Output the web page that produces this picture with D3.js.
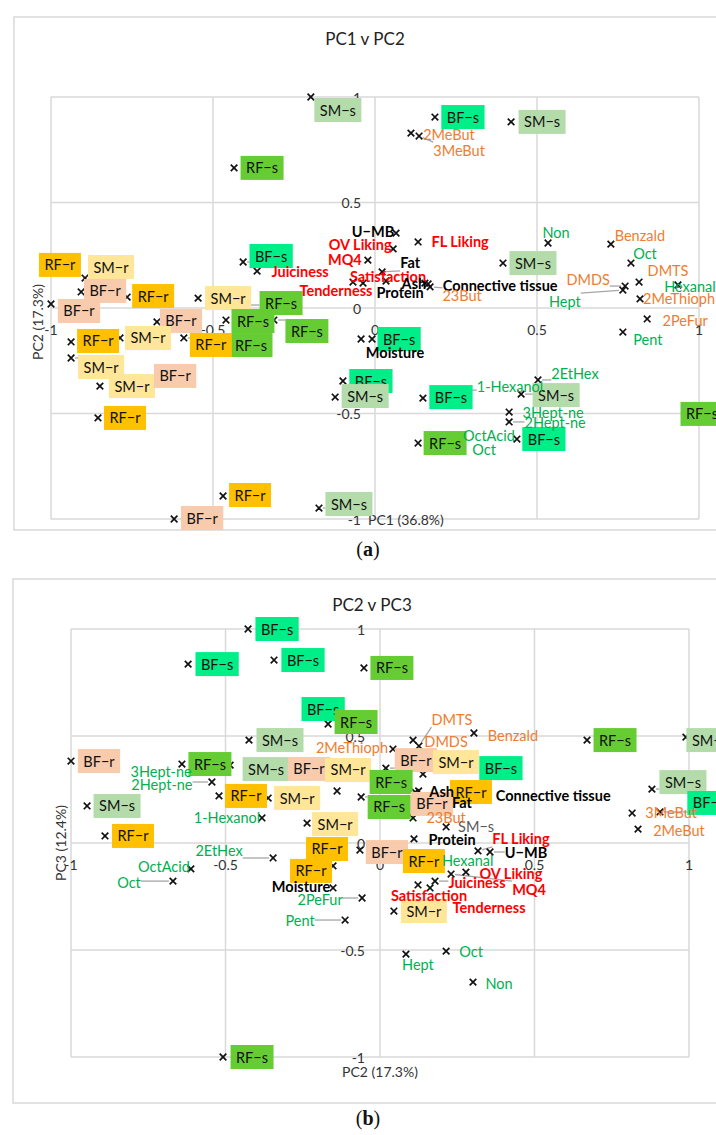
<!DOCTYPE html>
<html><head><meta charset="utf-8">
<script src="https://cdn.jsdelivr.net/npm/d3@7"></script>
<style>body{margin:0;background:#fff}</style>
</head><body>
<svg id="fig" width="716" height="1135"></svg>
<script>
// ---------- shared ----------
const tickValues = [-1, -0.5, 0, 0.5, 1];
const tickLabels = ["-1", "-0.5", "0", "0.5", "1"];

// ---------- PC1 v PC2 : sample scores ----------
const samplesA = ["SM−s","RF−s","BF−s","SM−s","BF−s","SM−s","RF−r","SM−r","BF−r","BF−r",
  "RF−r","SM−r","BF−r","RF−s","RF−s","RF−s","RF−s","RF−r","RF−r","SM−r",
  "SM−r","SM−r","BF−r","RF−r","RF−r","BF−r","SM−s","BF−s","BF−s","SM−s",
  "BF−s","SM−s","BF−s","RF−s","RF−s"];
const samplesA_pc1 = [-0.198,-0.435,0.185,0.420,-0.407,0.395,-0.849,-0.895,-0.907,-1.0,
  -0.765,-0.546,-0.673,-0.460,-0.312,-0.401,-0.463,-0.590,-0.938,-0.787,
  -0.938,-0.849,-0.694,-0.855,-0.469,-0.620,-0.173,-0.009,-0.099,-0.123,
  0.148,0.451,0.438,0.133,1.0];
const samplesA_pc2 = [1.0,0.664,0.905,0.882,0.218,0.213,0.190,0.142,0.076,0.019,
  0.052,0.047,-0.066,-0.057,-0.057,0.014,-0.185,-0.142,-0.161,-0.142,
  -0.237,-0.370,-0.341,-0.521,-0.891,-1.0,-0.948,-0.147,-0.346,-0.422,
  -0.427,-0.408,-0.621,-0.640,-0.502];

// ---------- PC1 v PC2 : variable loadings ----------
const varsA = ["U−MB","FL Liking","Non","Benzald","OV Liking","MQ4","Fat","Satisfaction","Tenderness","Protein",
  "Juiciness","Ash","Connective tissue","23But","Moisture","Oct","DMTS","DMDS","Hept","Hexanal",
  "2MeThioph","2PeFur","Pent","2EtHex","1-Hexanol","3Hept-ne","2Hept-ne","OctAcid","Oct","2MeBut","3MeBut"];
const varsA_pc1 = [0.065,0.133,0.534,0.728,0.056,-0.022,0.022,-0.037,-0.068,0.034,
  -0.364,0.154,0.164,0.170,-0.043,0.790,0.815,0.772,0.765,0.935,
  0.818,0.840,0.765,0.503,0.256,0.414,0.414,0.478,0.488,0.111,0.136];
const varsA_pc2 = [0.355,0.313,0.308,0.303,0.280,0.227,0.171,0.118,0.123,0.128,
  0.175,0.118,0.114,0.100,-0.147,0.213,0.123,0.104,0.085,0.109,
  0.043,-0.052,-0.114,-0.341,-0.389,-0.493,-0.540,-0.626,-0.649,0.829,0.815];
const varsA_type = ["comp","sens","volB","volA","sens","sens","comp","sens","sens","comp",
  "sens","comp","comp","volA","comp","volB","volA","volA","volB","volB",
  "volA","volA","volB","volB","volB","volB","volB","volB","volB","volA","volA"];

// ---------- PC2 v PC3 : sample scores ----------
const samplesB = ["BF−s","BF−s","BF−s","RF−s","BF−s","RF−s","SM−s","BF−r","RF−s","SM−s",
  "BF−r","SM−r","RF−r","SM−r","SM−s","RF−r","SM−r","BF−r","RF−r","RF−r",
  "BF−r","SM−r","BF−s","RF−s","RF−s","RF−r","BF−r","SM−s","RF−r","SM−r",
  "RF−s","RF−s","SM−s","SM−s","BF−s"];
const samplesB_pc2 = [-0.427,-0.621,-0.343,-0.052,-0.129,-0.168,-0.424,-1.0,-0.641,-0.485,
  -0.259,-0.139,-0.521,-0.362,-0.948,-0.890,-0.236,-0.065,-0.123,-0.152,
  0.019,0.139,0.291,0.049,-0.061,0.275,0.194,0.214,0.113,0.045,
  -0.508,0.670,0.990,0.880,0.906];
const samplesB_pc3 = [1.0,0.836,0.855,0.818,0.584,0.556,0.481,0.383,0.369,0.364,
  0.318,0.243,0.220,0.210,0.173,0.033,0.093,-0.033,-0.042,-0.107,
  0.350,0.322,0.350,0.271,0.215,0.224,0.173,0.075,-0.089,-0.318,
  -1.0,0.481,0.495,0.252,0.145];

// ---------- PC2 v PC3 : variable loadings ----------
const varsB = ["DMDS","DMTS","Benzald","2MeThioph","3Hept-ne","2Hept-ne","1-Hexanol","2EtHex","OctAcid","Oct",
  "Moisture","2PeFur","Pent","Ash","Connective tissue","Fat","23But","Protein","FL Liking","U−MB",
  "Hexanal","OV Liking","MQ4","Juiciness","Satisfaction","Tenderness","Hept","Oct","Non","3MeBut","2MeBut"];
const varsB_pc2 = [0.107,0.126,0.304,0.042,-0.498,-0.544,-0.382,-0.346,-0.612,-0.670,
  -0.152,-0.058,-0.113,0.125,0.114,0.162,0.107,0.110,0.317,0.356,
  0.109,0.278,0.230,0.178,0.123,0.162,0.084,0.214,0.301,0.816,0.835];
const varsB_pc3 = [0.481,0.453,0.514,0.439,0.341,0.285,0.117,-0.070,-0.121,-0.178,
  -0.210,-0.257,-0.360,0.243,0.238,0.201,0.117,0.019,-0.037,-0.042,
  -0.107,-0.136,-0.145,-0.178,-0.196,-0.210,-0.519,-0.505,-0.650,0.140,0.065];
const varsB_type = ["volA","volA","volA","volA","volB","volB","volB","volB","volB","volB",
  "comp","volB","volB","comp","comp","comp","volA","comp","sens","comp",
  "volB","sens","sens","sens","sens","sens","volB","volB","volB","volA","volA"];

// ---------- label placement (pixel nudges from each marker; true = leader line) ----------
const nudgeSamplesA = [[27,13],[28,0],[28,0],[31,0],[28,-6,true],[30,0],[-40,-3],[26,-11],[24,-1],[28,7],
  [26,-1],[30,0],[24,-1],[27,1],[33,11,true],[36,-2,true],[26,-2],[27,7,true],[27,-1],[28,0],
  [30,9,true],[32,0],[25,-4],[27,0],[27,-1],[28,-1],[30,-4,true],[27,0],[28,0],[30,-1],
  [28,-1],[35,1,true],[27,0],[27,0],[3,0]];
const nudgeVarsA = [[-23,-2],[42,0],[8,-11],[29,-9],[-33,-4],[-23,-1],[28,-9,true],[25,-7],[-17,8],[14,12],
  [43,0],[-11,0],[72,2],[32,9,true],[34,13],[14,-10],[29,-12],[-37,-7,true],[-58,11,true],[12,1],
  [39,0],[38,2],[25,7],[37,-6,true],[52,-4,true],[44,0],[46,1,true],[-41,-5],[-49,5],[38,1],[40,14,true]];
const nudgeSamplesB = [[29,0],[29,0],[29,0],[28,0],[-17,-9],[28,-2],[31,0],[28,0],[28,0],[36,4],
  [9,-6],[11,-21],[27,0],[29,0],[30,0],[28,0],[28,1],[27,2],[-15,-3],[-22,5],
  [30,-8,true],[33,-12],[31,0],[-4,-3],[28,10,true],[6,-3],[-8,-2],[30,0],[9,-1],[30,0],
  [29,0],[28,0],[24,3],[31,-7,true],[49,-9,true]];
const plainSamplesB = [27]; // drawn as grey text without a box
const nudgeVarsB = [[33,1],[33,-27,true],[39,2],[-41,-2],[-65,1],[-50,2,true],[-35,0],[-54,-7,true],[-27,-2],[-44,1,true],
  [-32,-1],[-42,2,true],[-45,0,true],[23,1],[138,3],[32,3],[33,0],[38,1],[43,-12,true],[36,1,true],
  [54,-5],[45,1],[78,15,true],[42,1,true],[11,11],[59,20],[12,10],[25,0],[26,1],[39,-1],[41,1]];

// ---------- styles ----------
const FONT = "Lato, 'Open Sans', sans-serif";
const groupFill = {"RF−r":"#FFC000","SM−r":"#FFE699","BF−r":"#F8CBAD",
                   "RF−s":"#66CC33","SM−s":"#B4DCAA","BF−s":"#00EE88"};
const typeStyle = {sens:{fill:"#FF0000",weight:"bold"}, comp:{fill:"#000000",weight:"bold"},
                   volA:{fill:"#ED7D31",weight:"normal"}, volB:{fill:"#00B050",weight:"normal"}};
const GRID = "#D9D9D9";

const svg = d3.select("#fig");
svg.append("rect").attr("width",716).attr("height",1135).attr("fill","#fff");

function drawPanel(cfg) {
  const g = svg.append("g");
  const xs = d3.scaleLinear().domain([-1,1]).range(cfg.xRange);
  const ys = d3.scaleLinear().domain([-1,1]).range(cfg.yRange);

  g.append("rect").attr("x",cfg.frame[0]).attr("y",cfg.frame[1])
    .attr("width",cfg.frame[2]).attr("height",cfg.frame[3])
    .attr("fill","#fff").attr("stroke",GRID).attr("stroke-width",1.5);

  g.append("text").attr("x",cfg.title[1]).attr("y",cfg.title[2])
    .attr("text-anchor","middle").attr("dominant-baseline","central")
    .style("font-family",FONT).style("font-size","17px").attr("fill","#222")
    .text(cfg.title[0]);

  // gridlines
  g.selectAll(".vg").data(tickValues).join("line")
    .attr("x1",d=>xs(d)).attr("x2",d=>xs(d)).attr("y1",ys(1)).attr("y2",ys(-1))
    .attr("stroke",GRID).attr("stroke-width",1.5);
  g.selectAll(".hg").data(tickValues).join("line")
    .attr("y1",d=>ys(d)).attr("y2",d=>ys(d)).attr("x1",xs(-1)).attr("x2",xs(1))
    .attr("stroke",GRID).attr("stroke-width",1.5);

  // tick labels along the axes through the origin
  const tickFont = sel => sel.style("font-family",FONT).style("font-size","14px").attr("fill","#333");
  g.selectAll(".yt").data(tickValues).join("text")
    .attr("x",xs(0)-cfg.yTickGap).attr("y",d=>ys(d))
    .attr("text-anchor","end").attr("dominant-baseline","central")
    .text((d,i)=>tickLabels[i]).call(tickFont);
  g.selectAll(".xt").data(tickValues).join("text")
    .attr("x",d=>xs(d)).attr("y",ys(0)+21)
    .attr("text-anchor","middle").attr("dominant-baseline","central")
    .text((d,i)=>tickLabels[i]).call(tickFont);

  // axis titles
  g.append("text").attr("x",cfg.xTitle[1]).attr("y",cfg.xTitle[2])
    .attr("text-anchor",cfg.xTitle[3]).attr("dominant-baseline","central")
    .text(cfg.xTitle[0]).call(tickFont);
  g.append("text").attr("transform",`translate(${cfg.yTitle[1]},${cfg.yTitle[2]}) rotate(-90)`)
    .attr("text-anchor","middle").attr("dominant-baseline","central")
    .text(cfg.yTitle[0]).call(tickFont);

  // caption
  const cap = g.append("text").attr("x",cfg.caption[1]).attr("y",cfg.caption[2])
    .attr("text-anchor","middle").attr("dominant-baseline","central")
    .style("font-family","'Liberation Serif', 'DejaVu Serif', serif").style("font-size","20px").attr("fill","#111");
  cap.append("tspan").text("(");
  cap.append("tspan").style("font-weight","bold").text(cfg.caption[0]);
  cap.append("tspan").text(")");

  // assemble points
  const pts = [];
  cfg.samples.forEach((s,i)=>pts.push({kind: cfg.plain.includes(i) ? "plain" : "box", label:s,
    x:xs(cfg.sx[i]), y:ys(cfg.sy[i]), nd:cfg.sNudge[i]}));
  cfg.vars.forEach((s,i)=>pts.push({kind:"text", label:s, type:cfg.vType[i],
    x:xs(cfg.vx[i]), y:ys(cfg.vy[i]), nd:cfg.vNudge[i]}));

  const leaderG = g.append("g");
  const markG = g.append("g");
  const labelG = g.append("g");

  // markers
  markG.selectAll("path").data(pts).join("path")
    .attr("transform",d=>`translate(${d.x},${d.y})`)
    .attr("d",d3.symbol(d3.symbolTimes,30)())
    .attr("fill","none").attr("stroke","#111").attr("stroke-width",1.7);

  // labels: boxed sample labels first, then text labels
  const boxes = pts.filter(p=>p.kind==="box");
  const texts = pts.filter(p=>p.kind!=="box");

  boxes.forEach(p=>{
    const cx = p.x + p.nd[0], cy = p.y + p.nd[1];
    const bg = labelG.append("g");
    const r = bg.append("rect").attr("fill",groupFill[p.label]);
    const t = bg.append("text").attr("x",cx).attr("y",cy)
      .attr("text-anchor","middle").attr("dominant-baseline","central")
      .style("font-family",FONT).style("font-size","14.5px").attr("fill","#111").text(p.label);
    const w = t.node().getComputedTextLength() + 11, h = 24;
    r.attr("x",cx-w/2).attr("y",cy-h/2).attr("width",w).attr("height",h);
    p.bb = {x:cx-w/2, y:cy-h/2, w, h};
  });
  texts.forEach(p=>{
    const cx = p.x + p.nd[0], cy = p.y + p.nd[1];
    const st = p.kind==="plain" ? {fill:"#595959",weight:"normal"} : typeStyle[p.type];
    const t = labelG.append("text").attr("x",cx).attr("y",cy)
      .attr("text-anchor","middle").attr("dominant-baseline","central")
      .style("font-family",FONT).style("font-size","14.5px")
      .style("font-weight",st.weight).attr("fill",st.fill).text(p.label);
    const w = t.node().getComputedTextLength();
    p.bb = {x:cx-w/2, y:cy-8, w, h:16};
  });

  // leader lines from label edge to marker
  pts.filter(p=>p.nd[2]).forEach(p=>{
    const b = p.bb;
    const ex = Math.max(b.x, Math.min(p.x, b.x+b.w));
    const ey = Math.max(b.y, Math.min(p.y, b.y+b.h));
    const dx = ex-p.x, dy = ey-p.y, len = Math.hypot(dx,dy)||1;
    leaderG.append("path")
      .attr("d",`M${ex},${ey}L${p.x+dx/len*4},${p.y+dy/len*4}`)
      .attr("stroke","#A6A6A6").attr("stroke-width",1.3).attr("fill","none");
  });
}

drawPanel({
  frame:[14,17,740,513], title:["PC1 v PC2",365,38],
  xRange:[51,699], yRange:[519,97], yTickGap:14,
  xTitle:["PC1 (36.8%)",368,519,"start"], yTitle:["PC2 (17.3%)",37,322],
  caption:["a",368,549],
  samples:samplesA, sx:samplesA_pc1, sy:samplesA_pc2, sNudge:nudgeSamplesA, plain:[],
  vars:varsA, vx:varsA_pc1, vy:varsA_pc2, vType:varsA_type, vNudge:nudgeVarsA
});
drawPanel({
  frame:[13,579,740,524], title:["PC2 v PC3",372,604],
  xRange:[71,689], yRange:[1057,629], yTickGap:15,
  xTitle:["PC2 (17.3%)",380,1071,"middle"], yTitle:["PC3 (12.4%)",60,843],
  caption:["b",368,1118],
  samples:samplesB, sx:samplesB_pc2, sy:samplesB_pc3, sNudge:nudgeSamplesB, plain:plainSamplesB,
  vars:varsB, vx:varsB_pc2, vy:varsB_pc3, vType:varsB_type, vNudge:nudgeVarsB
});
</script>
</body></html>
